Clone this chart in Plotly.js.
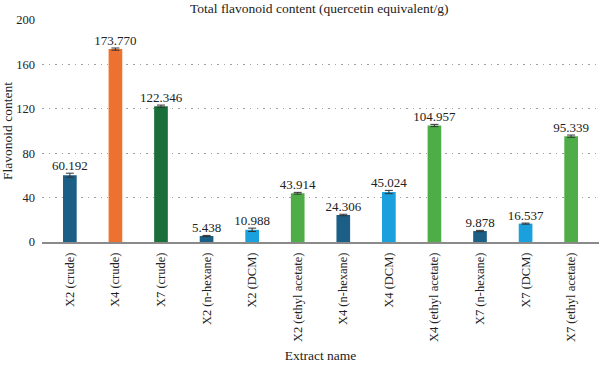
<!DOCTYPE html>
<html>
<head>
<meta charset="utf-8">
<script src="https://cdn.plot.ly/plotly-3.0.1.min.js"></script>
<style>
  html, body { margin: 0; padding: 0; background: #fff; }
  #chart { width: 600px; height: 365px; }
</style>
</head>
<body>
<div id="chart"></div>
<script>
// Extract names (x categories)
const extracts = [
  "X2 (crude)", "X4 (crude)", "X7 (crude)",
  "X2 (n-hexane)", "X2 (DCM)", "X2 (ethyl acetate)",
  "X4 (n-hexane)", "X4 (DCM)", "X4 (ethyl acetate)",
  "X7 (n-hexane)", "X7 (DCM)", "X7 (ethyl acetate)"
];
// Total flavonoid content, quercetin equivalent/g
const flavonoid = [60.192, 173.770, 122.346, 5.438, 10.988, 43.914,
                   24.306, 45.024, 104.957, 9.878, 16.537, 95.339];
// Standard deviation of each measurement
const stdev = [1.8, 1.0, 1.0, 0.5, 1.5, 0.8, 0.7, 1.5, 1.0, 0.6, 0.5, 1.0];
// Fill colour per extract type
const barColors = [
  "#1b5f86", "#ed7231", "#1a6e3a",
  "#1b5f86", "#1aa0dc", "#4fad48",
  "#1b5f86", "#1aa0dc", "#4fad48",
  "#1b5f86", "#1aa0dc", "#4fad48"
];
const yTicks = [0, 40, 80, 120, 160, 200];

const serif = "Liberation Serif, Times New Roman, serif";

const bars = {
  type: "bar",
  x: extracts,
  y: flavonoid,
  marker: { color: barColors, line: { width: 0 } },
  error_y: { type: "data", array: stdev, visible: true, color: "#333", thickness: 1, width: 4 },
  hoverinfo: "x+y",
  showlegend: false
};

// Value labels sitting above each error bar
const labels = {
  type: "scatter",
  mode: "text",
  x: extracts,
  y: flavonoid.map((v, i) => v + stdev[i]),
  text: flavonoid.map(v => v.toFixed(3)),
  textposition: "top center",
  textfont: { family: serif, size: 13, color: "#222" },
  cliponaxis: false,
  hoverinfo: "skip",
  showlegend: false
};

const layout = {
  width: 600,
  height: 365,
  margin: { l: 42, r: 1, t: 20, b: 123 },
  paper_bgcolor: "#fff",
  plot_bgcolor: "#fff",
  bargap: 0.7,
  font: { family: serif, size: 12, color: "#222" },
  title: {
    text: "Total flavonoid content (quercetin equivalent/g)",
    font: { family: serif, size: 13.5, color: "#222" },
    x: 0.532, xanchor: "center", y: 0.99, yanchor: "top"
  },
  xaxis: {
    type: "category",
    tickangle: -90,
    ticks: "",
    showgrid: false,
    showline: true,
    linecolor: "#8a8a8a",
    linewidth: 1.5,
    zeroline: false,
    tickfont: { family: serif, size: 12.5, color: "#222" },
    ticklabelstandoff: 4,
    title: { text: "Extract name", font: { family: serif, size: 13.5, color: "#222" }, standoff: 9 }
  },
  yaxis: {
    range: [0, 200],
    tickvals: yTicks,
    ticks: "",
    showline: false,
    zeroline: false,
    showgrid: true,
    gridcolor: "#a0a0a0",
    gridwidth: 1,
    griddash: "1.5px,5px",
    tickfont: { family: serif, size: 12.5, color: "#222" },
    ticklabelstandoff: 6,
    title: { text: "Flavonoid content", font: { family: serif, size: 13.5, color: "#222" }, standoff: 10 }
  }
};

Plotly.newPlot("chart", [bars, labels], layout, { displayModeBar: false, staticPlot: true });
</script>
</body>
</html>
